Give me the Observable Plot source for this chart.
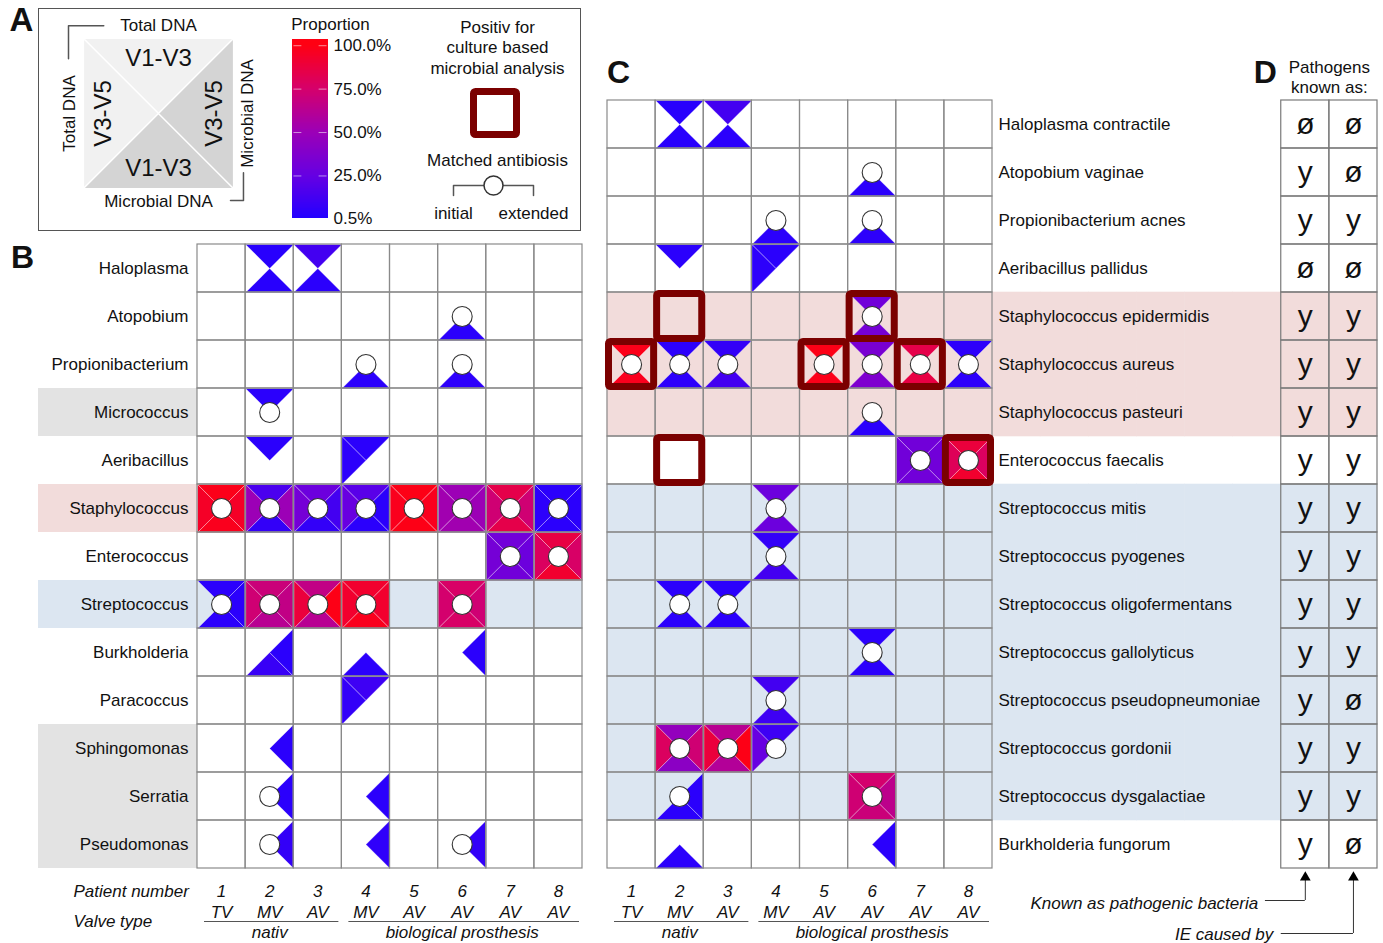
<!DOCTYPE html>
<html><head><meta charset="utf-8">
<script src="https://cdn.jsdelivr.net/npm/d3@7"></script>
<script src="https://cdn.jsdelivr.net/npm/@observablehq/plot@0.6"></script>
<style>
body{margin:0;background:#fff;}
#fig{position:relative;width:1383px;height:943px;background:#fff;overflow:hidden;font-family:"Liberation Sans",Arial,Helvetica,sans-serif;}
#fig > *{position:absolute;}
#boxA{left:38px;top:8px;width:543px;height:223px;border:1px solid #555;box-sizing:border-box;}
</style></head>
<body><div id="fig"><div id="boxA"></div></div>
<script>
// ---------------- DATA ----------------
const patients = ["1","2","3","4","5","6","7","8"];
const valveTypes = ["TV","MV","AV","MV","AV","AV","AV","AV"];
const valveGroups = [
  {label: "nativ", from: "1", to: "3", mid: "2"},
  {label: "biological prosthesis", from: "4", to: "8", mid: "6"}
];
const genera = ["Haloplasma","Atopobium","Propionibacterium","Micrococcus","Aeribacillus","Staphylococcus",
  "Enterococcus","Streptococcus","Burkholderia","Paracoccus","Sphingomonas","Serratia","Pseudomonas"];
const genusShadeGray = ["Micrococcus","Sphingomonas","Serratia","Pseudomonas"];
const genusShadePink = ["Staphylococcus"];
const genusShadeBlue = ["Streptococcus"];
// [taxon, patient, Total DNA V1-V3 (top), Total DNA V3-V5 (left), Microbial DNA V1-V3 (bottom), Microbial DNA V3-V5 (right)] in %
const genusCells = [
  ["Haloplasma","2", 2,null,2,null],
  ["Haloplasma","3", 12,null,3,null],
  ["Atopobium","6", null,null,3,null],
  ["Propionibacterium","4", null,null,3,null],
  ["Propionibacterium","6", null,null,4,null],
  ["Micrococcus","2", 3,null,null,null],
  ["Aeribacillus","2", 3,null,null,null],
  ["Aeribacillus","4", 3,4,null,null],
  ["Staphylococcus","1", 98,94,97,94],
  ["Staphylococcus","2", 15,50,6,50],
  ["Staphylococcus","3", 28,32,6,12],
  ["Staphylococcus","4", 20,26,3,3],
  ["Staphylococcus","5", 99,97,99,97],
  ["Staphylococcus","6", 50,52,52,50],
  ["Staphylococcus","7", 84,72,84,72],
  ["Staphylococcus","8", 3,4,3,3],
  ["Enterococcus","7", 30,32,30,28],
  ["Enterococcus","8", 86,78,92,76],
  ["Streptococcus","1", 3,null,3,3],
  ["Streptococcus","2", 70,72,62,66],
  ["Streptococcus","3", 66,88,62,99],
  ["Streptococcus","4", 92,92,97,92],
  ["Streptococcus","6", 76,74,76,72],
  ["Burkholderia","2", null,null,8,3],
  ["Burkholderia","4", null,null,3,null],
  ["Burkholderia","6", null,null,null,3],
  ["Paracoccus","4", 10,6,null,null],
  ["Sphingomonas","2", null,null,null,3],
  ["Serratia","2", null,null,null,3],
  ["Serratia","4", null,null,null,3],
  ["Pseudomonas","2", null,null,null,6],
  ["Pseudomonas","4", null,null,null,5],
  ["Pseudomonas","6", null,null,null,6]
];
const genusAntibiosis = [
  ["Atopobium","6"],["Propionibacterium","4"],["Propionibacterium","6"],["Micrococcus","2"],
  ["Staphylococcus","1"],["Staphylococcus","2"],["Staphylococcus","3"],["Staphylococcus","4"],
  ["Staphylococcus","5"],["Staphylococcus","6"],["Staphylococcus","7"],["Staphylococcus","8"],
  ["Enterococcus","7"],["Enterococcus","8"],
  ["Streptococcus","1"],["Streptococcus","2"],["Streptococcus","3"],["Streptococcus","4"],["Streptococcus","6"],
  ["Serratia","2"],["Pseudomonas","2"],["Pseudomonas","6"]
];
const species = ["Haloplasma contractile","Atopobium vaginae","Propionibacterium acnes","Aeribacillus pallidus",
  "Staphylococcus epidermidis","Staphylococcus aureus","Staphylococcus pasteuri","Enterococcus faecalis",
  "Streptococcus mitis","Streptococcus pyogenes","Streptococcus oligofermentans","Streptococcus gallolyticus",
  "Streptococcus pseudopneumoniae","Streptococcus gordonii","Streptococcus dysgalactiae","Burkholderia fungorum"];
const speciesShadePink = ["Staphylococcus epidermidis","Staphylococcus aureus","Staphylococcus pasteuri"];
const speciesShadeBlue = ["Streptococcus mitis","Streptococcus pyogenes","Streptococcus oligofermentans",
  "Streptococcus gallolyticus","Streptococcus pseudopneumoniae","Streptococcus gordonii","Streptococcus dysgalactiae"];
const speciesCells = [
  ["Haloplasma contractile","2", 2,null,2,null],
  ["Haloplasma contractile","3", 12,null,3,null],
  ["Atopobium vaginae","6", null,null,3,null],
  ["Propionibacterium acnes","4", null,null,3,null],
  ["Propionibacterium acnes","6", null,null,4,null],
  ["Aeribacillus pallidus","2", 3,null,null,null],
  ["Aeribacillus pallidus","4", 3,4,null,null],
  ["Staphylococcus epidermidis","6", 30,null,32,null],
  ["Staphylococcus aureus","1", 98,null,97,null],
  ["Staphylococcus aureus","2", 4,null,4,null],
  ["Staphylococcus aureus","3", 6,null,12,null],
  ["Staphylococcus aureus","5", 99,null,98,null],
  ["Staphylococcus aureus","6", 34,null,36,null],
  ["Staphylococcus aureus","7", 84,null,86,null],
  ["Staphylococcus aureus","8", 4,null,4,null],
  ["Staphylococcus pasteuri","6", null,null,3,null],
  ["Enterococcus faecalis","7", 30,30,30,30],
  ["Enterococcus faecalis","8", 88,80,92,78],
  ["Streptococcus mitis","4", 28,null,28,null],
  ["Streptococcus pyogenes","4", 6,null,12,null],
  ["Streptococcus oligofermentans","2", 3,null,3,null],
  ["Streptococcus oligofermentans","3", 3,null,3,null],
  ["Streptococcus gallolyticus","6", 3,null,3,null],
  ["Streptococcus pseudopneumoniae","4", 12,null,10,null],
  ["Streptococcus gordonii","2", 46,78,42,72],
  ["Streptococcus gordonii","3", 62,88,60,99],
  ["Streptococcus gordonii","4", 10,26,null,null],
  ["Streptococcus dysgalactiae","2", null,null,3,3],
  ["Streptococcus dysgalactiae","6", 74,72,70,64],
  ["Burkholderia fungorum","2", null,null,3,null],
  ["Burkholderia fungorum","6", null,null,null,3]
];
const speciesAntibiosis = [
  ["Atopobium vaginae","6"],["Propionibacterium acnes","4"],["Propionibacterium acnes","6"],
  ["Staphylococcus epidermidis","6"],
  ["Staphylococcus aureus","1"],["Staphylococcus aureus","2"],["Staphylococcus aureus","3"],["Staphylococcus aureus","5"],
  ["Staphylococcus aureus","6"],["Staphylococcus aureus","7"],["Staphylococcus aureus","8"],
  ["Staphylococcus pasteuri","6"],["Enterococcus faecalis","7"],["Enterococcus faecalis","8"],
  ["Streptococcus mitis","4"],["Streptococcus pyogenes","4"],["Streptococcus oligofermentans","2"],
  ["Streptococcus oligofermentans","3"],["Streptococcus gallolyticus","6"],["Streptococcus pseudopneumoniae","4"],
  ["Streptococcus gordonii","2"],["Streptococcus gordonii","3"],["Streptococcus gordonii","4"],
  ["Streptococcus dysgalactiae","2"],["Streptococcus dysgalactiae","6"]
];
const speciesCulture = [
  ["Staphylococcus epidermidis","2"],["Staphylococcus epidermidis","6"],
  ["Staphylococcus aureus","1"],["Staphylococcus aureus","5"],["Staphylococcus aureus","7"],
  ["Enterococcus faecalis","2"],["Enterococcus faecalis","8"]
];
const pathogenKnown = ["ø","y","y","ø","y","y","y","y","y","y","y","y","y","y","y","y"];
const ieCausedBy    = ["ø","ø","y","ø","y","y","y","y","y","y","y","y","ø","y","y","ø"];
const colorTicks = [0.5, 25, 50, 75, 100];
const legendQuads = [
  {q: "T", dna: "Total DNA", region: "V1-V3"},
  {q: "L", dna: "Total DNA", region: "V3-V5"},
  {q: "B", dna: "Microbial DNA", region: "V1-V3"},
  {q: "R", dna: "Microbial DNA", region: "V3-V5"}
];

// ---------------- STYLE / HELPERS ----------------
const FONT = '"Liberation Sans", Arial, Helvetica, sans-serif';
const shade = {gray: "#e3e3e3", pink: "#f2dcdb", blue: "#dce6f1"};
const dnaFill = {"Total DNA": "#f1f1f1", "Microbial DNA": "#d4d4d4"};
const colorScale = {type: "linear", domain: [0.5, 25, 50, 75, 100],
  range: ["#2400ff", "#6600e2", "#9c00b6", "#d6006a", "#ff0012"], interpolate: "rgb", clamp: true};
const Q = ["T","L","B","R"];
const dir = {T: [0, -1], B: [0, 1], L: [-1, 0], R: [1, 0]};
const style = {background: "transparent", overflow: "visible", fontFamily: FONT, fontSize: "17px", color: "#111"};
const fig = document.getElementById("fig");
function place(node, left, top) { node.style.left = left + "px"; node.style.top = top + "px"; fig.appendChild(node); }

function expand(cells) {
  return cells.flatMap(([taxon, patient, ...vals]) =>
    Q.map((q, i) => ({taxon, patient, q, value: vals[i]})).filter(d => d.value != null));
}
function quadSym(q) {
  return {draw(ctx, size) {
    const s = Math.sqrt(size / Math.PI);
    const c = {T: [[-s,-s],[s,-s]], B: [[-s,s],[s,s]], L: [[-s,-s],[-s,s]], R: [[s,-s],[s,s]]}[q];
    ctx.moveTo(0, 0); ctx.lineTo(c[0][0], c[0][1]); ctx.lineTo(c[1][0], c[1][1]); ctx.closePath();
  }};
}
function triangleMarks(tris, r) {
  return Q.map(q => Plot.dot(tris.filter(d => d.q === q),
    {x: "patient", y: "taxon", symbol: quadSym(q), r, fill: "value", stroke: "white", strokeOpacity: 0.4, strokeWidth: 0.8}));
}
function footerMarks(gridH) {
  return [
    Plot.text(patients, {x: d => d, text: d => d, frameAnchor: "bottom", lineAnchor: "middle", textAnchor: "middle", dy: 23, fontStyle: "italic"}),
    Plot.text(patients, {x: d => d, text: (d, i) => valveTypes[i], frameAnchor: "bottom", lineAnchor: "middle", textAnchor: "middle", dy: 44, fontStyle: "italic"}),
    Plot.ruleY(valveGroups, {x1: "from", x2: "to", y: null, dy: gridH / 2 + 53, insetLeft: 7, insetRight: 3, stroke: "#555"}),
    Plot.text(valveGroups, {x: "mid", text: "label", frameAnchor: "bottom", lineAnchor: "middle", textAnchor: "middle", dy: 64, fontStyle: "italic"})
  ];
}

// ---------------- PANEL A: legend ----------------
{
  const dA = Plot.plot({
    width: 260, height: 240, marginLeft: 83, marginRight: 27, marginTop: 38, marginBottom: 52,
    x: {domain: [-1, 1], axis: null}, y: {domain: [-1, 1], axis: null}, style,
    marks: [
      ...legendQuads.map(d => Plot.dot([d], {x: () => 0, y: () => 0, r: 75, symbol: quadSym(d.q), fill: dnaFill[d.dna], stroke: "white", strokeWidth: 1.2})),
      Plot.text(legendQuads, {x: d => dir[d.q][0] * 0.74, y: d => -dir[d.q][1] * 0.73, text: "region",
        rotate: d => dir[d.q][0] ? -90 : 0, fontSize: 24, textAnchor: "middle", lineAnchor: "middle"}),
      Plot.text(legendQuads, {x: d => dir[d.q][0] * 1.19, y: d => -dir[d.q][1] * 1.17, text: "dna",
        rotate: d => dir[d.q][0] ? -90 : 0, fontSize: 17, textAnchor: "middle", lineAnchor: "middle"}),
      Plot.line([[-0.73, 1.17], [-1.2, 1.17], [-1.2, 0.73]], {stroke: "#555"}),
      Plot.line([[0.96, -1.16], [1.133, -1.16], [1.133, -0.79]], {stroke: "#555"}),
      Plot.text(["A"], {text: d => d, frameAnchor: "top-left", textAnchor: "middle", lineAnchor: "middle", dx: -62, dy: -18, fontSize: 33, fontWeight: "bold"})
    ]
  });
  place(dA, 0, 0);
}
{
  const ramp = d3.range(0.5, 103, 0.5);
  const cb = Plot.plot({
    width: 130, height: 240, marginLeft: 42, marginRight: 52, marginTop: 40, marginBottom: 22,
    x: {domain: [0, 1], axis: null}, y: {domain: [0.5, 103], axis: null}, color: colorScale, style,
    marks: [
      Plot.rect(ramp, {x1: 0, x2: 1, y1: d => d, y2: d => d + 1, fill: d => d, shapeRendering: "crispEdges"}),
      Plot.ruleY(colorTicks, {x1: 0.04, x2: 0.26, stroke: "white", strokeOpacity: 0.55}),
      Plot.ruleY(colorTicks, {x1: 0.74, x2: 0.96, stroke: "white", strokeOpacity: 0.55}),
      Plot.text(colorTicks, {y: d => d, text: d => d.toFixed(1) + "%", frameAnchor: "right", textAnchor: "start", lineAnchor: "middle", dx: 5}),
      Plot.text(["Proportion"], {text: d => d, frameAnchor: "top", textAnchor: "middle", lineAnchor: "middle", dx: 20, dy: -16})
    ]
  });
  place(cb, 250, 0);
}
{
  const cl = Plot.plot({
    width: 170, height: 150, marginLeft: 58, marginRight: 62, marginTop: 88, marginBottom: 12,
    x: {type: "band", domain: ["box"], padding: 0, round: false, axis: null},
    y: {type: "band", domain: ["box"], padding: 0, round: false, axis: null}, style,
    marks: [
      Plot.cell(["box"], {x: d => d, y: d => d, fill: "none", stroke: "#7b0000", strokeWidth: 7, inset: 3.5, rx: 2}),
      Plot.text(["Positiv for\nculture based\nmicrobial analysis"], {text: d => d, frameAnchor: "top", textAnchor: "middle", lineAnchor: "top", dx: 2, dy: -70, lineHeight: 1.2})
    ]
  });
  place(cl, 412, 0);
}
{
  const ab = Plot.plot({
    width: 170, height: 100, marginLeft: 41, marginRight: 49, marginTop: 45, marginBottom: 45,
    x: {type: "point", domain: ["initial", "extended"], padding: 0, round: false, axis: null},
    y: {domain: [0, 1], axis: null}, style,
    marks: [
      Plot.line([{x: "initial", y: 0}, {x: "initial", y: 1}, {x: "extended", y: 1}, {x: "extended", y: 0}], {x: "x", y: "y", stroke: "#555"}),
      Plot.dot([1], {y: d => d, frameAnchor: "middle", r: 9.5, fill: "white", stroke: "#333"}),
      Plot.text(["Matched antibiosis"], {text: d => d, frameAnchor: "top", textAnchor: "middle", lineAnchor: "middle", dx: 4, dy: -25}),
      Plot.text(["initial", "extended"], {x: d => d, text: d => d, frameAnchor: "bottom", textAnchor: "middle", lineAnchor: "middle", dy: 18})
    ]
  });
  place(ab, 412, 140);
}

// ---------------- PANEL B: genus level ----------------
{
  const W = 600, ML = 197, MR = 18, MT = 8, MB = 75;
  const bw = (W - ML - MR) / patients.length;
  const gridH = genera.length * 48;
  const tris = expand(genusCells);
  const pB = Plot.plot({
    width: W, height: MT + gridH + MB, marginLeft: ML, marginRight: MR, marginTop: MT, marginBottom: MB,
    x: {type: "band", domain: patients, padding: 0, round: false, axis: null},
    y: {type: "band", domain: genera, padding: 0, round: false, axis: null},
    color: colorScale, style,
    marks: [
      Plot.cell(genusShadeGray, {x: () => "1", y: d => d, fill: shade.gray, insetLeft: -(ML - 38), insetRight: bw}),
      Plot.cell(genusShadePink, {x: () => "1", y: d => d, fill: shade.pink, insetLeft: -(ML - 38), insetRight: bw}),
      Plot.cell(genusShadeBlue, {x: () => "1", y: d => d, fill: shade.blue, insetLeft: -(ML - 38), insetRight: bw}),
      Plot.cell(d3.cross(patients, genusShadeBlue), {x: d => d[0], y: d => d[1], fill: shade.blue, inset: -0.3}),
      ...triangleMarks(tris, bw / 2),
      Plot.cell(d3.cross(patients, genera), {x: d => d[0], y: d => d[1], fill: "none", stroke: "#8a8a8a", strokeWidth: 1.2}),
      Plot.dot(genusAntibiosis, {x: d => d[1], y: d => d[0], r: 10, fill: "white", stroke: "#333", strokeWidth: 1.1}),
      Plot.text(genera, {y: d => d, text: d => d, frameAnchor: "left", textAnchor: "end", lineAnchor: "middle", dx: -9}),
      ...footerMarks(gridH),
      Plot.text(["Patient number"], {text: d => d, frameAnchor: "bottom-left", textAnchor: "start", lineAnchor: "middle", dx: 73 - ML, dy: 23, fontStyle: "italic"}),
      Plot.text(["Valve type"], {text: d => d, frameAnchor: "bottom-left", textAnchor: "start", lineAnchor: "middle", dx: 73 - ML, dy: 53, fontStyle: "italic"}),
      Plot.text(["B"], {text: d => d, frameAnchor: "top-left", textAnchor: "middle", lineAnchor: "middle", dx: 22 - ML, dy: 13, fontSize: 32, fontWeight: "bold"})
    ]
  });
  place(pB, 0, 236);
}

// ---------------- PANELS C + D: species level ----------------
{
  const W = 783, ML = 7, MR = 6, MT = 100, MB = 75;
  const spacer = ["g1","g2","g3","g4","g5","g6"];
  const dCols = ["known", "ie"];
  const xAll = [...patients, ...spacer, ...dCols];
  const bw = (W - ML - MR) / xAll.length;
  const gridH = species.length * 48;
  const tris = expand(speciesCells);
  const dTable = species.flatMap((s, i) => [
    {species: s, col: "known", val: pathogenKnown[i]},
    {species: s, col: "ie", val: ieCausedBy[i]}
  ]);
  const pC = Plot.plot({
    width: W, height: MT + gridH + MB, marginLeft: ML, marginRight: MR, marginTop: MT, marginBottom: MB,
    x: {type: "band", domain: xAll, padding: 0, round: false, axis: null},
    y: {type: "band", domain: species, padding: 0, round: false, axis: null},
    color: colorScale, style,
    marks: [
      Plot.cell(d3.cross(xAll, speciesShadePink), {x: d => d[0], y: d => d[1], fill: shade.pink, inset: -0.3}),
      Plot.cell(d3.cross(xAll, speciesShadeBlue), {x: d => d[0], y: d => d[1], fill: shade.blue, inset: -0.3}),
      ...triangleMarks(tris, bw / 2),
      Plot.cell(d3.cross(patients, species), {x: d => d[0], y: d => d[1], fill: "none", stroke: "#8a8a8a", strokeWidth: 1.2}),
      Plot.cell(d3.cross(dCols, species), {x: d => d[0], y: d => d[1], fill: "none", stroke: "#7a7a7a", strokeWidth: 1.2}),
      Plot.cell(speciesCulture, {x: d => d[1], y: d => d[0], fill: "none", stroke: "#7b0000", strokeWidth: 7, inset: 1.5, rx: 2}),
      Plot.dot(speciesAntibiosis, {x: d => d[1], y: d => d[0], r: 10, fill: "white", stroke: "#333", strokeWidth: 1.1}),
      Plot.text(species, {x: () => "g1", y: d => d, text: d => d, textAnchor: "start", lineAnchor: "middle", dx: -bw / 2 + 6}),
      Plot.text(dTable, {x: "col", y: "species", text: "val", fontSize: 30, textAnchor: "middle", lineAnchor: "middle"}),
      ...footerMarks(gridH),
      Plot.text(["C"], {x: () => "1", text: d => d, frameAnchor: "top", textAnchor: "middle", lineAnchor: "middle", dx: -13, dy: -28, fontSize: 32, fontWeight: "bold"}),
      Plot.text(["D"], {x: () => "g6", text: d => d, frameAnchor: "top", textAnchor: "middle", lineAnchor: "middle", dx: 8, dy: -28, fontSize: 32, fontWeight: "bold"}),
      Plot.text(["Pathogens\nknown as:"], {x: () => "known", text: d => d, frameAnchor: "top", textAnchor: "middle", lineAnchor: "middle", dx: bw / 2, dy: -24, lineHeight: 1.15}),
      Plot.ruleX(["known"], {x: d => d, insetTop: gridH + 10, insetBottom: -32, stroke: "#333"}),
      Plot.ruleX(["ie"], {x: d => d, insetTop: gridH + 10, insetBottom: -65, stroke: "#333"}),
      Plot.ruleY(["a"], {x1: () => "g6", x2: () => "known", y: null, insetLeft: 32.3, insetRight: bw / 2, dy: gridH / 2 + 32, stroke: "#333"}),
      Plot.ruleY(["b"], {x1: () => "known", x2: () => "ie", y: null, insetLeft: 0, insetRight: bw / 2, dy: gridH / 2 + 65, stroke: "#333"}),
      Plot.dot(dCols, {x: d => d, frameAnchor: "bottom", symbol: "triangle", r: 4, fill: "#000", dy: 9}),
      Plot.text(["Known as pathogenic bacteria"], {x: () => "g6", text: d => d, frameAnchor: "bottom", textAnchor: "end", lineAnchor: "middle", dx: 1, dy: 35, fontStyle: "italic"}),
      Plot.text(["IE caused by"], {x: () => "g6", text: d => d, frameAnchor: "bottom", textAnchor: "end", lineAnchor: "middle", dx: 16, dy: 66, fontStyle: "italic"})
    ]
  });
  place(pC, 600, 0);
}
</script></body></html>
